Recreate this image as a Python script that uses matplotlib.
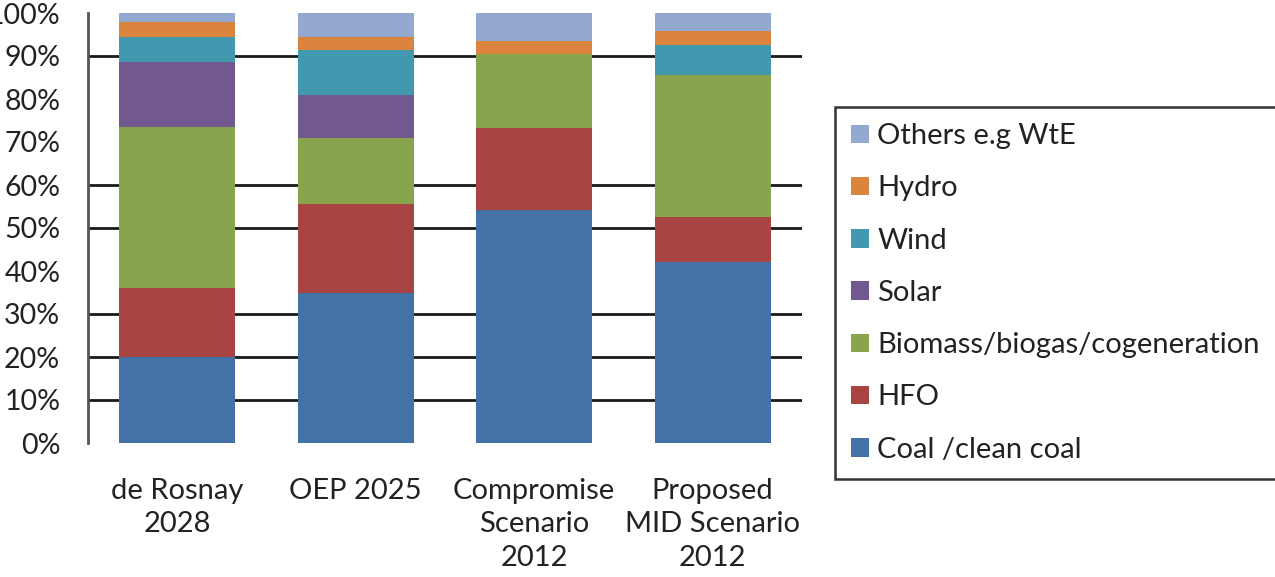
import numpy as np
import matplotlib
matplotlib.use('Agg')
import matplotlib.pyplot as plt
from matplotlib.patches import Patch


# Data (percent share of generation mix)
scenarios = ["de Rosnay\n2028", "OEP 2025", "Compromise\nScenario\n2012", "Proposed\nMID Scenario\n2012"]
coal = [20, 35, 54.3, 42]
hfo = [16, 20.5, 19, 10.5]
biomass = [37.5, 15.5, 17.2, 33]
solar = [15, 10, 0, 0]
wind = [6, 10.5, 0, 7]
hydro = [3.5, 3, 3, 3.3]
others = [2, 5.5, 6.5, 4.2]

series_names = ["Coal /clean coal", "HFO", "Biomass/biogas/cogeneration", "Solar", "Wind", "Hydro", "Others e.g WtE"]
series_colors = ["#4471A6", "#A84542", "#88A44D", "#71588F", "#4198AF", "#DB843D", "#93A9CF"]
grid_levels = [10, 20, 30, 50, 60, 90]
y_ticks = list(range(0, 101, 10))

plt.rcParams['font.family'] = ['Lato', 'DejaVu Sans']

fig = plt.figure(figsize=(12.75, 5.77), dpi=100)
ax = fig.add_axes([88 / 1275, 134 / 577, (802 - 88) / 1275, (443 - 13) / 577])

x = np.arange(len(scenarios))
series = [coal, hfo, biomass, solar, wind, hydro, others]
bottom = np.zeros(len(scenarios))
for vals, name, col in zip(series, series_names, series_colors):
    ax.bar(x, vals, width=0.65, bottom=bottom, color=col, label=name, zorder=3)
    bottom += np.array(vals)

for lvl in grid_levels:
    ax.axhline(lvl, color='#1a1a1a', lw=2, zorder=1)

ax.set_xlim(-0.5, 3.5)
ax.set_ylim(0, 100)
ax.set_yticks(y_ticks)
ax.set_yticklabels([f"{t}%" for t in y_ticks], fontsize=20.5, color='#222222')
ax.set_xticks(x)
ax.set_xticklabels(scenarios, fontsize=21, color='#222222', linespacing=1.36)
ax.tick_params(axis='y', length=0, pad=20)
ax.tick_params(axis='x', length=0, pad=25)

for s in ['top', 'right', 'bottom']:
    ax.spines[s].set_visible(False)
ax.spines['left'].set_color('#555555')
ax.spines['left'].set_linewidth(2)

handles = [Patch(facecolor=c, edgecolor='none') for c in series_colors][::-1]
leg = fig.legend(handles, series_names[::-1], loc='upper left',
                 bbox_to_anchor=(835 / 1275, 1 - 107 / 577),
                 fontsize=21, frameon=True, fancybox=False,
                 handlelength=0.6, handleheight=0.6, handletextpad=0.3,
                 labelspacing=0.9, borderpad=0.55, borderaxespad=0)
leg.get_frame().set_edgecolor('black')
leg.get_frame().set_linewidth(1.8)
for t in leg.get_texts():
    t.set_color('#222222')

fig.savefig('out.png', dpi=100)
